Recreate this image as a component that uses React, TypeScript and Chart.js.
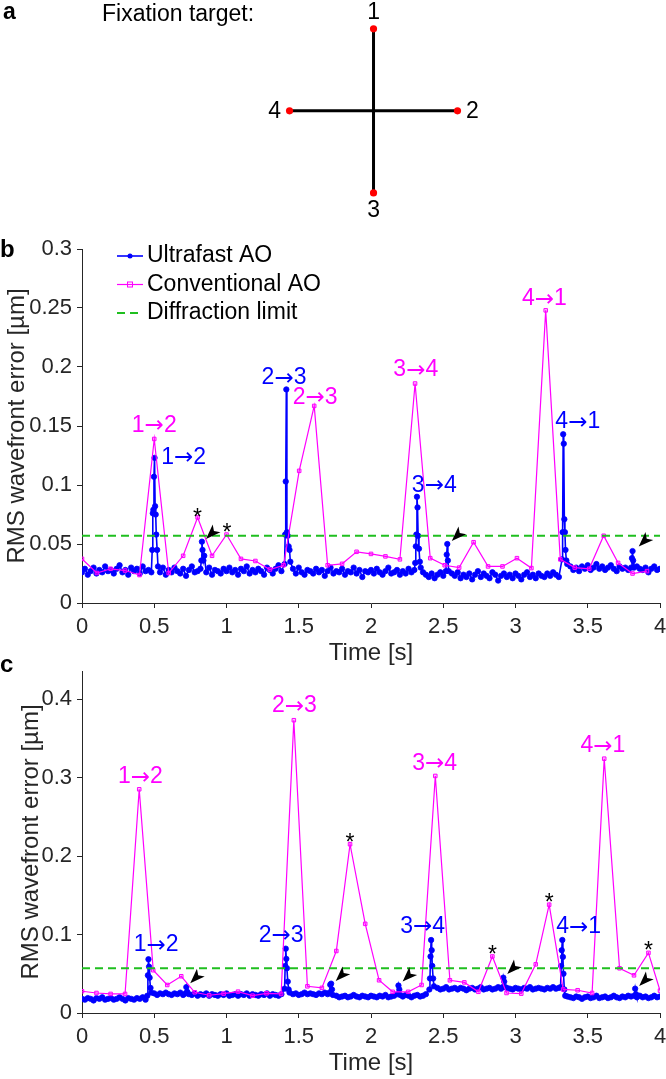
import React, { useEffect, useRef } from 'react';
import { Chart, registerables } from 'chart.js';
Chart.register(...registerables);

const FONT = '"Liberation Sans", Arial, Helvetica, sans-serif';
const ARROW_FONT = '"DejaVu Sans", sans-serif';
const AXIS = '#262626';
const BLUE = '#0000ff';
const MAGENTA = '#ff00ff';
const GREEN = '#1fbf1f';

// ---------- panel a: fixation target ----------
const targetLabels = ['1', '2', '3', '4'];
const targetX = [0, 1, 0, -1];
const targetY = [1, 0, -1, 0];

// ---------- shared axis ticks ----------
const timeTicks = [0, 0.5, 1, 1.5, 2, 2.5, 3, 3.5, 4];
const timeTickLabels = ['0', '0.5', '1', '1.5', '2', '2.5', '3', '3.5', '4'];
const yTicksB = [0, 0.05, 0.1, 0.15, 0.2, 0.25, 0.3];
const yTickLabelsB = ['0', '0.05', '0.1', '0.15', '0.2', '0.25', '0.3'];
const yTicksC = [0, 0.1, 0.2, 0.3, 0.4];
const yTickLabelsC = ['0', '0.1', '0.2', '0.3', '0.4'];
const diffractionLimit = 0.057;

// ---------- panel b data ----------
const ultrafastStep = 0.02; // sampling of the baseline listing below [s]
const ultrafastB = [
  0.026, 0.029, 0.024, 0.027, 0.030, 0.025, 0.028, 0.026, 0.031, 0.027,
  0.028, 0.025, 0.029, 0.032, 0.026, 0.028, 0.024, 0.030, 0.027, 0.029,
  0.025, 0.031, 0.027, 0.028, 0.026, 0.027, 0.029, 0.026, 0.030, 0.024,
  0.028, 0.026, 0.030, 0.027, 0.025, 0.029, 0.023, 0.028, 0.031, 0.026,
  0.027, 0.029, 0.028, 0.026, 0.030, 0.024, 0.028, 0.027, 0.025, 0.029,
  0.027, 0.030, 0.026, 0.028, 0.024, 0.029, 0.027, 0.031, 0.025, 0.028,
  0.026, 0.029, 0.027, 0.024, 0.030, 0.028, 0.025, 0.029, 0.032, 0.027,
  0.028, 0.026, 0.027, 0.029, 0.025, 0.030, 0.026, 0.024, 0.028, 0.027,
  0.025, 0.029, 0.026, 0.028, 0.023, 0.027, 0.030, 0.025, 0.027, 0.026,
  0.029, 0.024, 0.027, 0.026, 0.030, 0.025, 0.028, 0.022, 0.027, 0.026,
  0.028, 0.025, 0.029, 0.026, 0.024, 0.027, 0.030, 0.025, 0.026, 0.028,
  0.024, 0.027, 0.025, 0.029, 0.026, 0.028, 0.027, 0.025, 0.026, 0.024,
  0.022, 0.025, 0.021, 0.024, 0.026, 0.023, 0.027, 0.022, 0.025, 0.023,
  0.026, 0.021, 0.024, 0.022, 0.025, 0.020, 0.024, 0.027, 0.022, 0.025,
  0.023, 0.021, 0.026, 0.024, 0.019, 0.023, 0.025, 0.022, 0.024, 0.021,
  0.025, 0.023, 0.020, 0.024, 0.026, 0.022, 0.024, 0.021, 0.025, 0.023,
  0.022, 0.025, 0.023, 0.026, 0.024, 0.022, 0.028, 0.030, 0.029, 0.031,
  0.028, 0.030, 0.027, 0.031, 0.029, 0.032, 0.028, 0.030, 0.033, 0.029,
  0.031, 0.028, 0.030, 0.032, 0.029, 0.027, 0.031, 0.029, 0.030, 0.028,
  0.030, 0.027, 0.031, 0.029, 0.028, 0.030, 0.026, 0.029, 0.031, 0.028,
  0.029,
];
const ultrafastBEventT = [
  0.486, 0.490, 0.494, 0.498, 0.502, 0.506, 0.510, 0.514, 0.520, 0.526,
  0.826, 0.830, 0.834, 0.840, 0.846,
  1.402, 1.406, 1.410, 1.414, 1.418, 1.424, 1.430, 1.436, 1.442,
  2.306, 2.310, 2.314, 2.318, 2.322, 2.326, 2.332, 2.338, 2.344,
  2.518, 2.524, 2.528, 2.532, 2.538,
  3.322, 3.326, 3.330, 3.334, 3.338, 3.342, 3.346, 3.352, 3.358,
  3.800, 3.806, 3.810, 3.814, 3.820,
];
const ultrafastBEventV = [
  0.045, 0.076, 0.079, 0.107, 0.123, 0.082, 0.075, 0.058, 0.045, 0.031,
  0.036, 0.052, 0.045, 0.036, 0.040,
  0.033, 0.058, 0.103, 0.181, 0.060, 0.057, 0.048, 0.045, 0.035,
  0.034, 0.048, 0.058, 0.090, 0.081, 0.057, 0.046, 0.035, 0.030,
  0.027, 0.041, 0.050, 0.036, 0.027,
  0.037, 0.060, 0.143, 0.135, 0.071, 0.060, 0.045, 0.036, 0.033,
  0.030, 0.038, 0.044, 0.036, 0.030,
];
const conventionalBT = [
  0, 0.103, 0.198, 0.298, 0.398, 0.500, 0.600, 0.700, 0.800, 0.900,
  1.000, 1.100, 1.200, 1.300, 1.395, 1.503, 1.607, 1.700, 1.800, 1.900,
  2.000, 2.100, 2.200, 2.305, 2.410, 2.510, 2.610, 2.710, 2.810, 2.910,
  3.010, 3.110, 3.209, 3.310, 3.410, 3.510, 3.610, 3.710, 3.810, 3.910,
];
const conventionalBV = [
  0.0374, 0.0254, 0.029, 0.0275, 0.0237, 0.139, 0.0254, 0.040, 0.0725, 0.040,
  0.058, 0.0374, 0.0356, 0.0284, 0.032, 0.112, 0.167, 0.032, 0.0332, 0.0434,
  0.0416, 0.0395, 0.037, 0.186, 0.038, 0.032, 0.030, 0.0515, 0.031, 0.031,
  0.038, 0.0296, 0.248, 0.037, 0.030, 0.029, 0.057, 0.034, 0.025, 0.027,
];

// ---------- panel c data ----------
const ultrafastC = [
  0.018, 0.017, 0.019, 0.018, 0.016, 0.019, 0.018, 0.020, 0.017, 0.018,
  0.019, 0.017, 0.018, 0.020, 0.018, 0.016, 0.019, 0.018, 0.017, 0.019,
  0.018, 0.020, 0.017, 0.019, 0.024, 0.025, 0.023, 0.025, 0.024, 0.026,
  0.024, 0.023, 0.025, 0.024, 0.026, 0.023, 0.025, 0.024, 0.023, 0.025,
  0.022, 0.024, 0.023, 0.025, 0.022, 0.024, 0.023, 0.022, 0.024, 0.023,
  0.025, 0.022, 0.023, 0.024, 0.022, 0.024, 0.023, 0.025, 0.022, 0.024,
  0.023, 0.022, 0.024, 0.023, 0.025, 0.022, 0.024, 0.023, 0.022, 0.024,
  0.023, 0.025, 0.026, 0.024, 0.025, 0.023, 0.024, 0.026, 0.024, 0.025,
  0.024, 0.023, 0.025, 0.024, 0.026, 0.024, 0.025, 0.021, 0.022, 0.020,
  0.021, 0.022, 0.020, 0.021, 0.023, 0.021, 0.020, 0.022, 0.021, 0.020,
  0.022, 0.021, 0.020, 0.022, 0.021, 0.023, 0.020, 0.021, 0.022, 0.021,
  0.022, 0.021, 0.023, 0.022, 0.020, 0.022, 0.023, 0.021, 0.022, 0.024,
  0.023, 0.030, 0.031, 0.032, 0.030, 0.031, 0.033, 0.030, 0.031, 0.032,
  0.030, 0.032, 0.031, 0.029, 0.031, 0.032, 0.030, 0.031, 0.033, 0.030,
  0.031, 0.032, 0.030, 0.031, 0.033, 0.031, 0.030, 0.032, 0.031, 0.030,
  0.032, 0.031, 0.030, 0.032, 0.031, 0.033, 0.030, 0.031, 0.032, 0.031,
  0.030, 0.032, 0.031, 0.033, 0.031, 0.032, 0.030, 0.031, 0.021, 0.020,
  0.019, 0.021, 0.020, 0.018, 0.020, 0.021, 0.019, 0.020, 0.022, 0.019,
  0.020, 0.021, 0.019, 0.020, 0.022, 0.020, 0.019, 0.021, 0.020, 0.022,
  0.021, 0.019, 0.020, 0.022, 0.020, 0.021, 0.019, 0.020, 0.022, 0.020,
  0.021,
];
const ultrafastCEventT = [
  0.452, 0.456, 0.460, 0.464, 0.468, 0.474, 0.480,
  0.716, 0.722, 0.728,
  1.402, 1.406, 1.410, 1.414, 1.418, 1.424, 1.430, 1.436,
  1.712, 1.718, 1.724, 1.730, 1.736,
  2.184, 2.190, 2.196, 2.202,
  2.404, 2.408, 2.412, 2.416, 2.420, 2.424, 2.430, 2.436,
  2.910, 2.916, 2.922, 2.928,
  3.312, 3.316, 3.320, 3.324, 3.328, 3.332, 3.338, 3.344,
  3.822, 3.828, 3.834,
];
const ultrafastCEventV = [
  0.022, 0.048, 0.0685, 0.059, 0.045, 0.032, 0.026,
  0.025, 0.033, 0.027,
  0.031, 0.060, 0.082, 0.069, 0.057, 0.040, 0.030, 0.026,
  0.026, 0.036, 0.0374, 0.030, 0.023,
  0.024, 0.035, 0.030, 0.023,
  0.030, 0.044, 0.072, 0.093, 0.080, 0.060, 0.044, 0.034,
  0.033, 0.045, 0.040, 0.033,
  0.033, 0.060, 0.080, 0.093, 0.0715, 0.050, 0.030, 0.022,
  0.022, 0.031, 0.024,
];
const conventionalCT = [
  0, 0.10, 0.198, 0.298, 0.396, 0.493, 0.59, 0.687, 0.78, 0.88,
  0.98, 1.08, 1.18, 1.277, 1.378, 1.466, 1.56, 1.66, 1.76, 1.855,
  1.96, 2.056, 2.15, 2.257, 2.35, 2.445, 2.546, 2.646, 2.743, 2.84,
  2.938, 3.04, 3.14, 3.233, 3.33, 3.43, 3.53, 3.614, 3.72, 3.82,
  3.92, 4.0,
];
const conventionalCV = [
  0.0277, 0.0255, 0.0243, 0.0243, 0.285, 0.0545, 0.0357, 0.0468, 0.0264, 0.0226,
  0.0247, 0.0272, 0.0221, 0.0251, 0.0243, 0.373, 0.034, 0.032, 0.079, 0.215,
  0.1136, 0.0417, 0.027, 0.027, 0.0357, 0.302, 0.0417, 0.039, 0.027, 0.072,
  0.0255, 0.0247, 0.062, 0.138, 0.030, 0.029, 0.0255, 0.324, 0.057, 0.048,
  0.0766, 0.0285,
];

// ---------- annotations ----------
const transitionsB = [
  { text: '1→2', series: 'conv', t: 0.50, v: 0.1505 },
  { text: '1→2', series: 'fast', t: 0.703, v: 0.1235 },
  { text: '2→3', series: 'fast', t: 1.398, v: 0.1907 },
  { text: '2→3', series: 'conv', t: 1.613, v: 0.1744 },
  { text: '3→4', series: 'conv', t: 2.31, v: 0.1974 },
  { text: '3→4', series: 'fast', t: 2.438, v: 0.0997 },
  { text: '4→1', series: 'conv', t: 3.20, v: 0.258 },
  { text: '4→1', series: 'fast', t: 3.431, v: 0.1537 },
];
const transitionsC = [
  { text: '1→2', series: 'conv', t: 0.404, v: 0.301 },
  { text: '2→3', series: 'conv', t: 1.470, v: 0.3913 },
  { text: '3→4', series: 'conv', t: 2.441, v: 0.318 },
  { text: '4→1', series: 'conv', t: 3.605, v: 0.3405 },
  { text: '1→2', series: 'fast', t: 0.513, v: 0.0866 },
  { text: '2→3', series: 'fast', t: 1.378, v: 0.099 },
  { text: '3→4', series: 'fast', t: 2.358, v: 0.1104 },
  { text: '4→1', series: 'fast', t: 3.437, v: 0.110 },
];
const asteriskB_T = [0.80, 1.003];
const asteriskB_V = [0.0775, 0.0643];
const asteriskC_T = [1.855, 2.84, 3.233, 3.92];
const asteriskC_V = [0.2246, 0.0815, 0.148, 0.0866];
const arrowB_T = [0.858, 2.559, 3.853];
const arrowB_V = [0.0543, 0.0526, 0.0478];
const arrowC_T = [0.749, 1.756, 2.219, 2.943, 3.856];
const arrowC_V = [0.0378, 0.0408, 0.040, 0.0497, 0.0344];

const legendEntries = ['Ultrafast AO', 'Conventional AO', 'Diffraction limit'];

// ---------- helpers ----------
function pairs(ts: number[], vs: number[]) {
  return ts.map((t, i) => ({ x: t, y: vs[i] }));
}
function ultrafastSeries(base: number[], evT: number[], evV: number[]) {
  const pts: { x: number; y: number }[] = [];
  base.forEach((v, i) => {
    const t = +(i * ultrafastStep).toFixed(3);
    if (!evT.some((e) => Math.abs(e - t) < 0.005)) pts.push({ x: t, y: v });
  });
  evT.forEach((t, i) => pts.push({ x: t, y: evV[i] }));
  pts.sort((a, b) => a.x - b.x);
  return pts;
}

// draws "a→b" with the arrow taken from a font whose arrow is long
function drawTransition(ctx: CanvasRenderingContext2D, text: string, cx: number, cy: number, size: number) {
  const parts = text.split('→');
  const fa = `${size}px ${FONT}`;
  const fb = `${size}px ${ARROW_FONT}`;
  ctx.font = fa;
  const w1 = ctx.measureText(parts[0]).width;
  const w3 = ctx.measureText(parts[1]).width;
  ctx.font = fb;
  const w2 = ctx.measureText('→').width;
  let x = cx - (w1 + w2 + w3) / 2;
  ctx.textAlign = 'left';
  ctx.textBaseline = 'middle';
  ctx.font = fa;
  ctx.fillText(parts[0], x, cy);
  x += w1;
  ctx.font = fb;
  ctx.fillText('→', x, cy + 1);
  x += w2;
  ctx.font = fa;
  ctx.fillText(parts[1], x, cy);
}

type PanelCfg = {
  letter: string;
  ticksY: number[];
  tickLabelsY: string[];
  ymax: number;
  fast: { x: number; y: number }[];
  conv: { x: number; y: number }[];
  transitions: { text: string; series: string; t: number; v: number }[];
  astT: number[];
  astV: number[];
  arrT: number[];
  arrV: number[];
  legend: boolean;
  padTop: number;
  padBottom: number;
  titleX: number;
};

function drawArrowHead(ctx: CanvasRenderingContext2D, x: number, y: number) {
  const L = 15;
  const W = 5.5;
  const ux = Math.SQRT1_2, uy = -Math.SQRT1_2;
  const vx = Math.SQRT1_2, vy = Math.SQRT1_2;
  const p = (u: number, v: number) => [x + u * ux + v * vx, y + u * uy + v * vy];
  const a = p(0, 0), b = p(L, W), c = p(0.75 * L, 0), d = p(L, -W);
  ctx.beginPath();
  ctx.moveTo(a[0], a[1]);
  ctx.lineTo(b[0], b[1]);
  ctx.lineTo(c[0], c[1]);
  ctx.lineTo(d[0], d[1]);
  ctx.closePath();
  ctx.fillStyle = '#000';
  ctx.fill();
}

function makePanel(canvas: HTMLCanvasElement, cfg: PanelCfg) {
  const decor = {
    id: 'decor' + cfg.letter,
    afterDatasetsDraw(chart: any) {
      const ctx = chart.ctx as CanvasRenderingContext2D;
      const xs = chart.scales.x;
      const ys = chart.scales.y;
      const area = chart.chartArea;
      ctx.save();
      // transitions
      cfg.transitions.forEach((l) => {
        ctx.fillStyle = l.series === 'conv' ? MAGENTA : BLUE;
        drawTransition(ctx, l.text, xs.getPixelForValue(l.t), ys.getPixelForValue(l.v), 23);
      });
      // asterisks
      ctx.fillStyle = '#000';
      ctx.font = `23px ${FONT}`;
      ctx.textAlign = 'center';
      ctx.textBaseline = 'alphabetic';
      cfg.astT.forEach((t, i) => {
        ctx.fillText('*', xs.getPixelForValue(t), ys.getPixelForValue(cfg.astV[i]) + 13);
      });
      // arrowheads
      cfg.arrT.forEach((t, i) => drawArrowHead(ctx, xs.getPixelForValue(t), ys.getPixelForValue(cfg.arrV[i])));
      // axis titles
      ctx.fillStyle = AXIS;
      ctx.font = `24px ${FONT}`;
      ctx.textAlign = 'center';
      ctx.textBaseline = 'middle';
      ctx.fillText('Time [s]', (area.left + area.right) / 2, area.bottom + 50);
      ctx.save();
      ctx.translate(cfg.titleX, (area.top + area.bottom) / 2);
      ctx.rotate(-Math.PI / 2);
      ctx.textBaseline = 'alphabetic';
      ctx.fillText('RMS wavefront error [µm]', 0, 0);
      ctx.restore();
      // panel letter
      ctx.fillStyle = '#000';
      ctx.font = `bold 24px ${FONT}`;
      ctx.textAlign = 'left';
      ctx.textBaseline = 'alphabetic';
      ctx.fillText(cfg.letter, 0, area.top + (cfg.letter === 'b' ? 8 : 1));
      // legend
      if (cfg.legend) {
        const ds = chart.data.datasets;
        const rows = [ds[2], ds[1], ds[0]];
        ctx.font = `23px ${FONT}`;
        ctx.textBaseline = 'middle';
        rows.forEach((d: any, i: number) => {
          const y = area.top + 7 + i * 28.5;
          ctx.save();
          ctx.strokeStyle = d.borderColor;
          ctx.lineWidth = d.borderWidth;
          ctx.setLineDash(d.borderDash || []);
          ctx.beginPath();
          ctx.moveTo(117, y);
          ctx.lineTo(143, y);
          ctx.stroke();
          ctx.setLineDash([]);
          if (d.pointStyle === 'rect') {
            ctx.lineWidth = 1;
            ctx.strokeRect(127.5, y - 2.5, 5, 5);
          } else if (d.pointRadius > 0) {
            ctx.fillStyle = d.pointBackgroundColor;
            ctx.beginPath();
            ctx.arc(130, y, 2.5, 0, Math.PI * 2);
            ctx.fill();
          }
          ctx.restore();
          ctx.fillStyle = '#000';
          ctx.fillText(legendEntries[i], 147, y);
        });
      }
      ctx.restore();
    },
  };

  return new Chart(canvas, {
    type: 'scatter',
    data: {
      datasets: [
        {
          label: legendEntries[2],
          data: [{ x: 0, y: diffractionLimit }, { x: 4, y: diffractionLimit }],
          showLine: true,
          borderColor: GREEN,
          borderWidth: 1.8,
          borderDash: [8, 5],
          pointRadius: 0,
          order: 1,
        } as any,
        {
          label: legendEntries[1],
          data: cfg.conv,
          showLine: true,
          borderColor: MAGENTA,
          borderWidth: 1.2,
          pointStyle: 'rect',
          pointRadius: 2.5,
          pointBorderWidth: 1,
          pointBorderColor: MAGENTA,
          pointBackgroundColor: 'rgba(255,0,255,0.25)',
          order: 2,
        },
        {
          label: legendEntries[0],
          data: cfg.fast,
          showLine: true,
          borderColor: BLUE,
          borderWidth: 1.6,
          pointRadius: 2.7,
          pointBorderWidth: 0.8,
          pointBorderColor: BLUE,
          pointBackgroundColor: BLUE,
          order: 3,
        },
      ],
    },
    options: {
      responsive: false,
      animation: false,
      devicePixelRatio: 1,
      events: [],
      layout: { padding: { left: 0, right: 6, top: cfg.padTop, bottom: cfg.padBottom } },
      plugins: { legend: { display: false }, tooltip: { enabled: false } },
      scales: {
        x: {
          type: 'linear',
          min: 0,
          max: 4,
          afterBuildTicks: (s: any) => { s.ticks = timeTicks.map((v) => ({ value: v })); },
          afterFit: (s: any) => { s.height = 57; s.paddingLeft = 0; s.paddingRight = 0; },
          ticks: {
            autoSkip: false,
            maxRotation: 0,
            padding: 6,
            color: AXIS,
            font: { family: FONT, size: 22 },
            callback: (_v: any, i: number) => timeTickLabels[i],
          },
          grid: { drawOnChartArea: false, drawTicks: true, tickLength: 5, color: AXIS },
          border: { display: true, color: AXIS, width: 1 },
        },
        y: {
          type: 'linear',
          min: 0,
          max: cfg.ymax,
          afterBuildTicks: (s: any) => { s.ticks = cfg.ticksY.map((v) => ({ value: v })); },
          afterFit: (s: any) => { s.width = 82; s.paddingTop = 0; s.paddingBottom = 0; },
          ticks: {
            autoSkip: false,
            padding: 5,
            color: AXIS,
            font: { family: FONT, size: 22 },
            callback: (_v: any, i: number) => cfg.tickLabelsY[i],
          },
          grid: { drawOnChartArea: false, drawTicks: true, tickLength: 5, color: AXIS },
          border: { display: true, color: AXIS, width: 1 },
        },
      },
    },
    plugins: [decor],
  } as any);
}

function makeTarget(canvas: HTMLCanvasElement) {
  const decor = {
    id: 'decorA',
    afterDatasetsDraw(chart: any) {
      const ctx = chart.ctx as CanvasRenderingContext2D;
      const xs = chart.scales.x;
      const ys = chart.scales.y;
      ctx.save();
      ctx.fillStyle = '#000';
      ctx.font = `23px ${FONT}`;
      ctx.textAlign = 'center';
      ctx.textBaseline = 'middle';
      targetLabels.forEach((lab, i) => {
        const px = xs.getPixelForValue(targetX[i]) + targetX[i] * 15;
        const py = ys.getPixelForValue(targetY[i]) - targetY[i] * 17 + 1;
        ctx.fillText(lab, px, py);
      });
      ctx.textAlign = 'left';
      ctx.textBaseline = 'alphabetic';
      ctx.fillText('Fixation target:', 102, 20.5);
      ctx.font = `bold 23px ${FONT}`;
      ctx.fillText('a', 3, 18.5);
      ctx.restore();
    },
  };
  return new Chart(canvas, {
    type: 'scatter',
    data: {
      datasets: [
        {
          data: pairs(targetX, targetY),
          showLine: false,
          pointRadius: 3.6,
          pointBorderWidth: 0,
          pointBackgroundColor: '#ff0000',
        },
        {
          data: [{ x: targetX[0], y: targetY[0] }, { x: targetX[2], y: targetY[2] }],
          showLine: true,
          borderColor: '#000',
          borderWidth: 3,
          pointRadius: 0,
        },
        {
          data: [{ x: targetX[3], y: targetY[3] }, { x: targetX[1], y: targetY[1] }],
          showLine: true,
          borderColor: '#000',
          borderWidth: 3,
          pointRadius: 0,
        },
      ],
    },
    options: {
      responsive: false,
      animation: false,
      devicePixelRatio: 1,
      events: [],
      layout: { padding: 0 },
      plugins: { legend: { display: false }, tooltip: { enabled: false } },
      scales: {
        x: { type: 'linear', display: false, min: -4.4, max: 3.435 },
        y: { type: 'linear', display: false, min: -1.4035, max: 1.3024 },
      },
    },
    plugins: [decor],
  } as any);
}

export default function App() {
  const refA = useRef<HTMLCanvasElement>(null);
  const refB = useRef<HTMLCanvasElement>(null);
  const refC = useRef<HTMLCanvasElement>(null);

  useEffect(() => {
    const charts: Chart[] = [];
    if (refA.current) charts.push(makeTarget(refA.current));
    if (refB.current)
      charts.push(
        makePanel(refB.current, {
          letter: 'b',
          ticksY: yTicksB,
          tickLabelsY: yTickLabelsB,
          ymax: 0.3,
          fast: ultrafastSeries(ultrafastB, ultrafastBEventT, ultrafastBEventV),
          conv: pairs(conventionalBT, conventionalBV),
          transitions: transitionsB,
          astT: asteriskB_T,
          astV: asteriskB_V,
          arrT: arrowB_T,
          arrV: arrowB_V,
          legend: true,
          padTop: 19,
          padBottom: 10,
          titleX: 23.5,
        })
      );
    if (refC.current)
      charts.push(
        makePanel(refC.current, {
          letter: 'c',
          ticksY: yTicksC,
          tickLabelsY: yTickLabelsC,
          ymax: 0.4357,
          fast: ultrafastSeries(ultrafastC, ultrafastCEventT, ultrafastCEventV),
          conv: pairs(conventionalCT, conventionalCV),
          transitions: transitionsC,
          astT: asteriskC_T,
          astV: asteriskC_V,
          arrT: arrowC_T,
          arrV: arrowC_V,
          legend: false,
          padTop: 26,
          padBottom: 9,
          titleX: 38.4,
        })
      );
    return () => charts.forEach((c) => c.destroy());
  }, []);

  return (
    <div style={{ position: 'absolute', left: 0, top: 0, width: 666, height: 1079, background: '#fff' }}>
      <canvas ref={refA} width={666} height={230} style={{ position: 'absolute', left: 0, top: 0 }} />
      <canvas ref={refB} width={666} height={440} style={{ position: 'absolute', left: 0, top: 230 }} />
      <canvas ref={refC} width={666} height={434} style={{ position: 'absolute', left: 0, top: 645 }} />
    </div>
  );
}
